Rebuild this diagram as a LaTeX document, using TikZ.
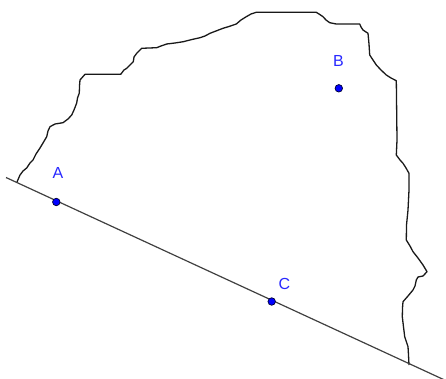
\documentclass[tikz,border=0pt]{standalone}
\usepackage{fontspec}
\setmainfont{Liberation Sans}
\definecolor{ptblue}{RGB}{0,0,255}
\definecolor{lblblue}{RGB}{40,40,255}
\begin{document}
\begin{tikzpicture}[x=1pt,y=-1pt,
  pt/.style={circle,fill=ptblue,draw=black!80!blue,line width=0.7pt,inner sep=0pt,minimum size=7.5pt},
  lbl/.style={text=lblblue,font=\fontsize{16}{19}\selectfont,inner sep=0pt},
  outline/.style={line width=1.3pt,line join=round,black!90},
  lineAC/.style={line width=1.2pt,black!75}]
\useasboundingbox (0,0) rectangle (446,379);
\clip (0,0) rectangle (446,379);
% boundary
\draw[outline] (16.7,182.7) -- (20,175) -- (23,171) -- (26.7,168) -- (30,163) -- (33,160) -- (36,154) -- (40,148) -- (43,143) -- (46.7,136.7) -- (48,131) -- (50,126.7) -- (55,124) -- (63,122.7) -- (68,119) -- (71.7,115) -- (74,110) -- (76.7,103) -- (77.5,98) -- (79.3,93) -- (79.5,86) -- (80,80) -- (85,74.3) -- (120.7,74.3) -- (124,70) -- (126.7,68.3) -- (130,65) -- (133.3,61.7) -- (134,57) -- (136.7,53.3) -- (141.7,48.3) -- (156.7,47.7) -- (161,46) -- (166.7,44) -- (175,43) -- (183.3,41.7) -- (192,39.5) -- (200,37.7) -- (205,36) -- (210,33.3) -- (216,31) -- (223,28.3) -- (229,26.5) -- (236.3,24) -- (241,20) -- (246.3,16.7) -- (251,14) -- (256.3,12.3) -- (316.3,12.3) -- (319,14) -- (323,16.7) -- (326,20) -- (329.7,22.7) -- (336.3,24) -- (359.7,24) -- (361,27) -- (363,30) -- (368,33.3) -- (369,44) -- (369.7,55) -- (373,60) -- (376.3,65) -- (381,70) -- (386.3,75) -- (391,78) -- (396.3,80.7) -- (397,140) -- (396.3,155) -- (400,160) -- (403,163.3) -- (406,168) -- (409,173.3) -- (409,190) -- (408,210) -- (406.5,225) -- (406.3,240) -- (410,246) -- (413,251.7) -- (418,258) -- (423,265) -- (427,271.7) -- (423,276) -- (418,277) -- (416.3,280) -- (415,286) -- (413,290) -- (408,296) -- (403,301.7) -- (402.5,308) -- (402.3,316.7) -- (403.5,327) -- (404.7,336.7) -- (408,346.7) -- (408.5,355) -- (409,365);
% line through A and C
\coordinate (L0) at (6,177.5);
\coordinate (L1) at (450,382.5);
\draw[lineAC] (L0) -- (L1);
% points
\node[pt] (A) at (56.3,202) {};
\node[pt] (B) at (338.8,88.3) {};
\node[pt] (C) at (271.7,301.5) {};
\node[lbl] (lA) at (58,172.5) {A};
\node[lbl] (lB) at (338.5,60.5) {B};
\node[lbl] (lC) at (284.5,284) {C};
\end{tikzpicture}
\end{document}
